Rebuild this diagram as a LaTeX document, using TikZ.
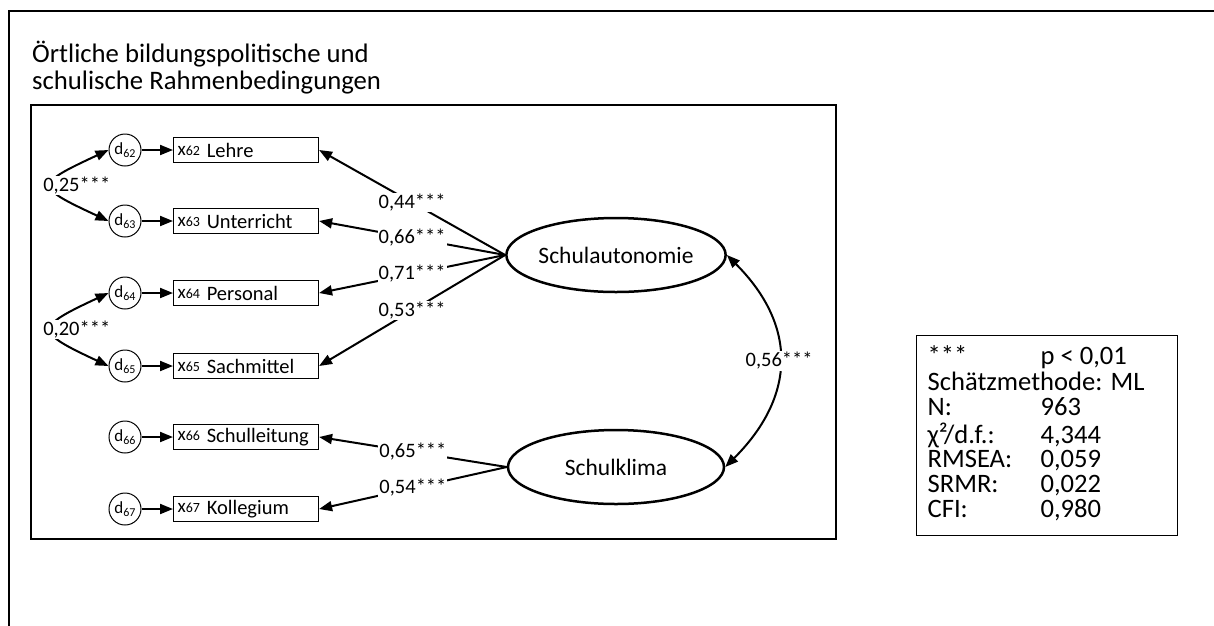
\documentclass[tikz,border=0pt]{standalone}
\usepackage{fontspec}
\setmainfont{Carlito}
\usetikzlibrary{arrows.meta,shapes.geometric}

% indicator and residual labels
\newcommand\dlab[1]{{\fontsize{17}{17}\selectfont d\raisebox{-3pt}{\fontsize{12}{12}\selectfont #1}}}
\newcommand\xlab[1]{\raisebox{2pt}{{\fontsize{19}{19}\selectfont x}{\fontsize{14}{14}\selectfont #1}}}

\begin{document}
\begin{tikzpicture}[x=1pt,y=1pt,
  obs/.style={draw, line width=1.1pt, rectangle, minimum height=25pt, text width=137pt,
    inner xsep=4pt, inner ysep=0pt, align=left, anchor=west, font=\fontsize{20.5}{22}\selectfont},
  err/.style={draw, circle, line width=1pt, minimum size=32pt, inner sep=0pt},
  lat/.style={draw, ellipse, line width=2.5pt, minimum width=216pt, minimum height=74pt,
    inner sep=0pt, font=\fontsize{23.5}{25}\selectfont},
  path/.style={line width=2pt, -{Triangle[length=13pt,width=10pt]}},
  dbl/.style={line width=2pt, {Triangle[length=13pt,width=10pt]}-{Triangle[length=13pt,width=10pt]}},
  coef/.style={fill=white, inner sep=1pt, font=\fontsize{20.5}{22}\selectfont},
  frame/.style={draw, line width=2.2pt}]
\useasboundingbox (0,0) rectangle (1214,-625);

% frames
\draw[frame] (1220,-11) -- (9,-11) -- (9,-632);
\draw[frame, line width=2.5pt] (31,-105) rectangle (836,-539);

% heading
\node[anchor=base west, inner sep=0pt, font=\fontsize{26.7}{27}\selectfont] (head1) at (32,-62) {Örtliche bildungspolitische und};
\node[anchor=base west, inner sep=0pt, font=\fontsize{26.7}{27}\selectfont] (head2) at (32,-89) {schulische Rahmenbedingungen};

% residuals and indicators
\node[err] (d62) at (125,-150) {\dlab{62}};
\node[err] (d63) at (125,-221) {\dlab{63}};
\node[err] (d64) at (125,-293) {\dlab{64}};
\node[err] (d65) at (125,-366) {\dlab{65}};
\node[err] (d66) at (125,-437) {\dlab{66}};
\node[err] (d67) at (125,-509) {\dlab{67}};

\node[obs] (x62) at (173,-150) {\xlab{62} Lehre};
\node[obs] (x63) at (173,-221) {\xlab{63} Unterricht};
\node[obs] (x64) at (173,-293) {\xlab{64} Personal};
\node[obs] (x65) at (173,-366) {\xlab{65} Sachmittel};
\node[obs] (x66) at (173,-437) {\xlab{66} Schulleitung};
\node[obs] (x67) at (173,-509) {\xlab{67} Kollegium};

\foreach \i in {62,...,67}{\draw[path] (d\i) -- (x\i);}

% latent factors
\node[lat] (sa) at (616,-255) {Schulautonomie};
\node[lat] (sk) at (616,-467) {Schulklima};

% loadings
\draw[path] (sa.west) -- (x62.east) node[coef, pos=.5] (l62) {0,44***};
\draw[path] (sa.west) -- (x63.east) node[coef, pos=.5] (l63) {0,66***};
\draw[path] (sa.west) -- (x64.east) node[coef, pos=.5] (l64) {0,71***};
\draw[path] (sa.west) -- (x65.east) node[coef, pos=.5] (l65) {0,53***};
\draw[path] (sk.west) -- (x66.east) node[coef, pos=.5] (l66) {0,65***};
\draw[path] (sk.west) -- (x67.east) node[coef, pos=.5] (l67) {0,54***};

% residual correlations
\draw[dbl] (d62.west) .. controls +(205:82) and +(155:82) .. (d63.west)
  node[coef, pos=.5, xshift=24pt] (r1) {0,25***};
\draw[dbl] (d64.west) .. controls +(205:82) and +(155:82) .. (d65.west)
  node[coef, pos=.5, xshift=24pt] (r2) {0,20***};

% factor correlation
\draw[dbl] (sa.east) .. controls +(-45:100) and +(45:100) .. (sk.east)
  node[coef, pos=.5] (r3) {0,56***};

% fit statistics
\node[draw, line width=1.2pt, anchor=north west, inner xsep=11pt, inner ysep=10pt,
  font=\fontsize{26.6}{24.3}\selectfont] (legend) at (916,-335)
  {\begin{tabular}{@{}p{113pt}@{}p{126pt}@{}}
   ***&p < 0,01\\
   \multicolumn{2}{@{}l@{}}{Schätzmethode: ML}\\
   N:&963\\
   χ²/d.f.:&4,344\\
   RMSEA:&0,059\\
   SRMR:&0,022\\
   CFI:&0,980
   \end{tabular}};
\end{tikzpicture}
\end{document}
